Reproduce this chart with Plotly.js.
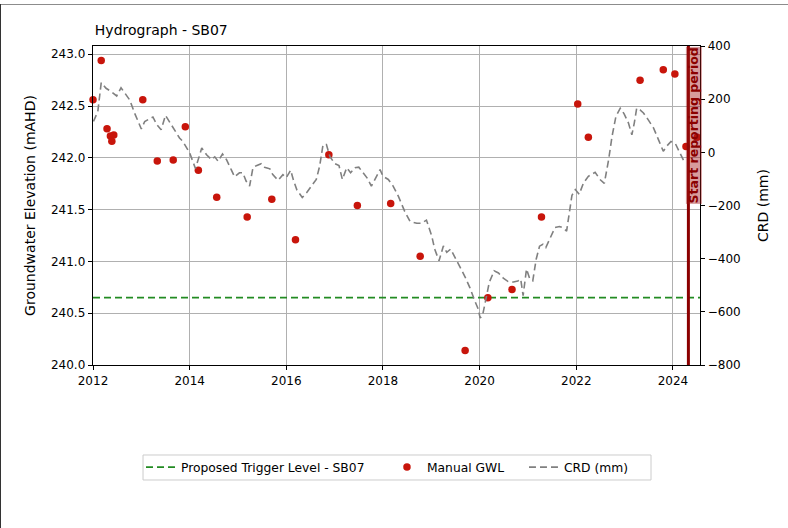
<!DOCTYPE html>
<html>
<head>
<meta charset="utf-8">
<script src="https://cdn.plot.ly/plotly-3.0.1.min.js"></script>
<style>
  html, body { margin: 0; padding: 0; background: #fff; }
  #wrap { position: relative; width: 788px; height: 528px; }
  #chart { position: absolute; left: 0; top: 0; width: 788px; height: 528px; }
  #topline { position: absolute; left: 0; top: 4px; width: 788px; height: 1px; background: #8c8c8c; pointer-events: none; }
  #leftline { position: absolute; left: 0; top: 4px; width: 1px; height: 524px; background: #333; pointer-events: none; }
</style>
</head>
<body>
<div id="wrap">
  <div id="chart"></div>
  <div id="topline"></div>
  <div id="leftline"></div>
</div>
<script>
// ---- Data ----
const chartTitle = "Hydrograph - SB07";
const triggerLevel = 240.65;
const reportingStart = 2024.32;
const xRange = [2012, 2024.56];

const gwlYears = [2012.00, 2012.17, 2012.29, 2012.36, 2012.43, 2012.39, 2013.03, 2013.33, 2013.66, 2013.91,
  2014.18, 2014.56, 2015.19, 2015.70, 2016.19, 2016.88, 2017.47, 2018.16, 2018.77, 2019.70,
  2020.17, 2020.67, 2021.28, 2022.03, 2022.25, 2023.32, 2023.80, 2024.04, 2024.27, 2024.50];
const gwlValues = [242.56, 242.94, 242.28, 242.21, 242.22, 242.16, 242.56, 241.97, 241.98, 242.30,
  241.88, 241.62, 241.43, 241.60, 241.21, 242.03, 241.54, 241.56, 241.05, 240.14,
  240.65, 240.73, 241.43, 242.52, 242.20, 242.75, 242.85, 242.81, 242.11, 242.20];

const crdYears = [2012.01, 2012.10, 2012.17, 2012.27, 2012.38, 2012.49, 2012.58, 2012.69, 2012.76, 2012.86,
  2013.00, 2013.07, 2013.14, 2013.24, 2013.32, 2013.41, 2013.50, 2013.58, 2013.69, 2013.79,
  2013.86, 2013.93, 2014.00, 2014.12, 2014.25, 2014.35, 2014.45, 2014.52, 2014.59, 2014.68,
  2014.76, 2014.86, 2014.93, 2015.03, 2015.10, 2015.17, 2015.24, 2015.31, 2015.38, 2015.48,
  2015.55, 2015.66, 2015.72, 2015.83, 2015.93, 2016.00, 2016.09, 2016.15, 2016.22, 2016.33,
  2016.42, 2016.52, 2016.62, 2016.69, 2016.76, 2016.83, 2016.90, 2017.00, 2017.09, 2017.16,
  2017.25, 2017.33, 2017.42, 2017.50, 2017.59, 2017.67, 2017.76, 2017.87, 2017.94, 2018.00,
  2018.11, 2018.21, 2018.32, 2018.45, 2018.56, 2018.70, 2018.80, 2018.90, 2019.01, 2019.07,
  2019.16, 2019.25, 2019.32, 2019.40, 2019.49, 2019.59, 2019.70, 2019.80, 2019.90, 2019.97,
  2020.01, 2020.06, 2020.13, 2020.20, 2020.30, 2020.39, 2020.49, 2020.59, 2020.70, 2020.79,
  2020.85, 2020.90, 2020.97, 2021.04, 2021.10, 2021.17, 2021.24, 2021.31, 2021.37, 2021.46,
  2021.56, 2021.65, 2021.71, 2021.80, 2021.91, 2021.98, 2022.06, 2022.15, 2022.25, 2022.39,
  2022.49, 2022.58, 2022.67, 2022.74, 2022.82, 2022.91, 2022.99, 2023.08, 2023.15, 2023.20,
  2023.25, 2023.32, 2023.39, 2023.49, 2023.60, 2023.70, 2023.80, 2023.88, 2023.96, 2024.05,
  2024.14, 2024.23];
const crdValues = [116, 154, 262, 241, 228, 212, 243, 216, 197, 148,
  88, 116, 122, 133, 104, 85, 139, 116, 85, 54,
  41, 22, -2, -61, 16, -9, -27, -17, -34, -6,
  -27, -65, -92, -77, -77, -109, -127, -58, -50, -43,
  -56, -62, -84, -105, -84, -95, -67, -106, -142, -170,
  -152, -127, -102, -52, 29, 29, -15, -42, -50, -102,
  -58, -77, -58, -56, -77, -96, -127, -90, -65, -90,
  -102, -127, -166, -222, -260, -267, -267, -255, -315, -364,
  -408, -352, -376, -364, -398, -430, -469, -510, -559, -589,
  -623, -614, -552, -489, -446, -454, -473, -486, -488, -484,
  -477, -539, -439, -477, -483, -402, -353, -346, -358, -321,
  -283, -279, -283, -296, -162, -140, -158, -115, -90, -75,
  -102, -117, -27, 60, 135, 166, 145, 110, 66, 110,
  166, 160, 148, 122, 91, 48, 4, 25, 41, 33,
  -2, -34];

const leftRange = [240, 243.08];
const rightRange = [-800, 400];

// ---- Plot ----
const FONT = "DejaVu Sans, Verdana, sans-serif";
const legendFont = { family: FONT, size: 12.3, color: "#000" };
const legendY = -0.32;

function legendBox(xpos) {
  return {
    orientation: "h", x: xpos, xanchor: "left", y: legendY, yanchor: "middle",
    borderwidth: 0, bgcolor: "rgba(0,0,0,0)", font: legendFont, itemwidth: 30
  };
}

const traces = [
  {
    x: xRange, y: [triggerLevel, triggerLevel],
    type: "scatter", mode: "lines",
    name: "Proposed Trigger Level - SB07",
    line: { color: "#228b22", width: 1.8, dash: "7px,4px" },
    yaxis: "y", hoverinfo: "skip", legend: "legend"
  },
  {
    x: gwlYears, y: gwlValues,
    type: "scatter", mode: "markers",
    name: "Manual GWL",
    marker: { color: "#c8150b", size: 7.5 },
    cliponaxis: false, yaxis: "y", legend: "legend2"
  },
  {
    x: crdYears, y: crdValues,
    type: "scatter", mode: "lines",
    name: "CRD (mm)",
    line: { color: "#808080", width: 1.6, dash: "7px,4px" },
    yaxis: "y2", legend: "legend3"
  }
];

const layout = {
  width: 788, height: 528,
  margin: { l: 93, r: 88, t: 46, b: 163 },
  paper_bgcolor: "#ffffff", plot_bgcolor: "#ffffff",
  font: { family: FONT, color: "#000", size: 12 },
  title: {
    text: chartTitle, font: { family: FONT, size: 14, color: "#000" },
    x: 0.003, xref: "paper", xanchor: "left",
    y: 1 - 30 / 528, yref: "container", yanchor: "middle"
  },
  showlegend: true,
  legend: legendBox(0.0791),
  legend2: legendBox(0.4843),
  legend3: legendBox(0.7100),
  xaxis: {
    range: xRange, tick0: 2012, dtick: 2, tickformat: "d",
    showgrid: true, gridcolor: "#b0b0b0", gridwidth: 1,
    showline: true, linecolor: "#000", linewidth: 1.3, mirror: true,
    ticks: "outside", ticklen: 4, tickcolor: "#000", tickwidth: 1,
    zeroline: false, tickfont: { family: FONT, size: 12, color: "#000" }
  },
  yaxis: {
    range: leftRange, tick0: 240, dtick: 0.5, tickformat: ".1f",
    showgrid: true, gridcolor: "#b0b0b0", gridwidth: 1,
    showline: true, linecolor: "#000", linewidth: 1.3, mirror: true,
    ticks: "outside", ticklen: 4, tickcolor: "#000", tickwidth: 1,
    zeroline: false, tickfont: { family: FONT, size: 12, color: "#000" },
    title: { text: "Groundwater Elevation (mAHD)", font: { family: FONT, size: 14, color: "#000" }, standoff: 12 }
  },
  yaxis2: {
    range: rightRange, tick0: -800, dtick: 200, overlaying: "y", side: "right",
    showgrid: false, zeroline: false,
    showline: true, linecolor: "#000", linewidth: 1.3,
    ticks: "outside", ticklen: 4, tickcolor: "#000", tickwidth: 1,
    tickfont: { family: FONT, size: 12, color: "#000" },
    title: { text: "CRD (mm)", font: { family: FONT, size: 14, color: "#000" }, standoff: 18 }
  },
  shapes: [
    {
      type: "line", xref: "x", yref: "paper",
      x0: reportingStart, x1: reportingStart, y0: 0, y1: 1,
      line: { color: "#8b0000", width: 3 }, layer: "above"
    },
    {
      type: "rect", xref: "paper", yref: "paper",
      x0: 0.0824, x1: 0.9193, y0: -0.3605, y1: -0.2821,
      line: { color: "#cccccc", width: 1 }, fillcolor: "rgba(255,255,255,0)", layer: "below"
    }
  ],
  annotations: [
    {
      text: "<b>Start reporting period</b>", textangle: -90,
      xref: "x", yref: "paper", x: reportingStart, y: 1,
      xanchor: "center", yanchor: "top", xshift: 5,
      showarrow: false, bgcolor: "rgba(160,20,20,0.42)", borderpad: 0,
      font: { family: FONT, size: 12.5, color: "#8b0000" }
    }
  ]
};

Plotly.newPlot("chart", traces, layout, { displayModeBar: false, staticPlot: true });
</script>
</body>
</html>
